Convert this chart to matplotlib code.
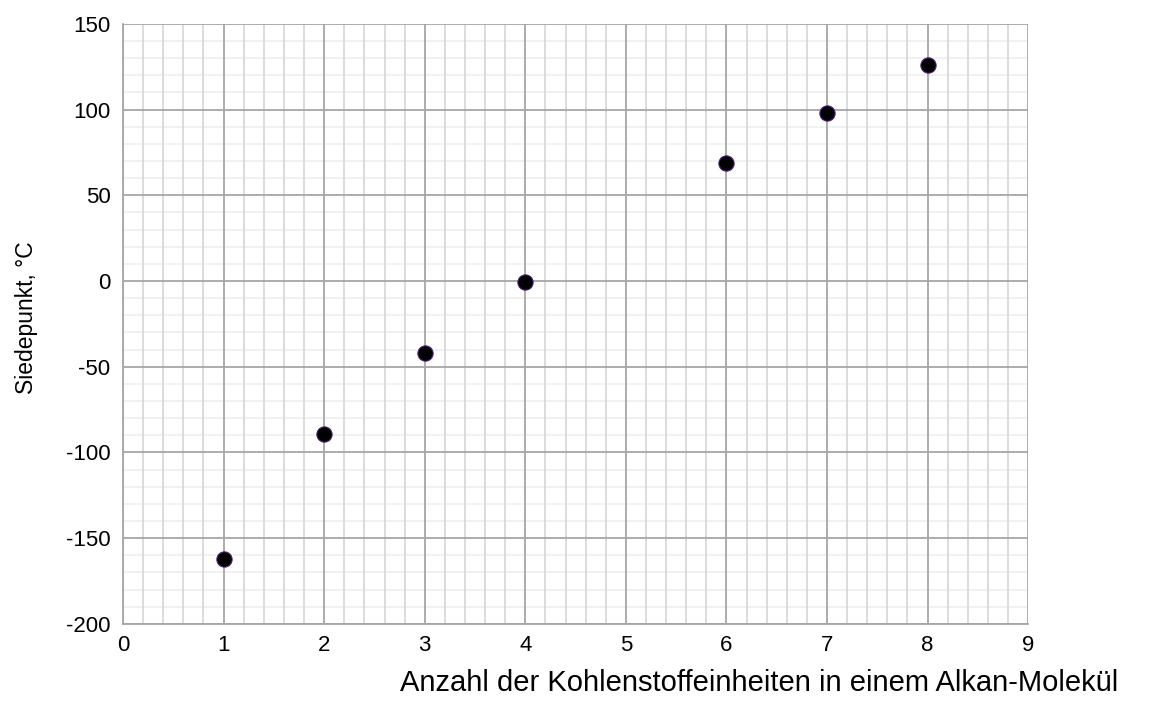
import matplotlib.pyplot as plt
import numpy as np
from matplotlib.ticker import MultipleLocator, FuncFormatter

plt.rcParams['font.family'] = ['Liberation Sans', 'DejaVu Sans']

kohlenstoff = [1, 2, 3, 4, 6, 7, 8]
siedepunkt = [-162, -89, -42, -0.5, 69, 98, 126]

fig = plt.figure(figsize=(11.5, 7.22), dpi=100)
ax = fig.add_axes([0.107, 0.136, 0.787, 0.831])

ax.set_xlim(0, 9)
ax.set_ylim(-200, 150)
ax.xaxis.set_major_locator(MultipleLocator(1))
ax.yaxis.set_major_locator(MultipleLocator(50))
ax.yaxis.set_major_formatter(FuncFormatter(lambda v, p: '%d' % v))

# minor grid drawn by hand, below the major grid
xminor = [v / 5 for v in range(46) if v % 5 != 0]
yminor = [v for v in range(-200, 151, 10) if v % 50 != 0]
ax.hlines(yminor, 0, 9, color='#f0f0f0', linewidth=1.3, zorder=0.3)
ax.vlines(xminor, -200, 150, color='#d9d9d9', linewidth=1.3, zorder=0.4)
ax.set_axisbelow('line')
ax.grid(True, which='major', color='#a6a6a6', linewidth=1.3)

for s in ['top', 'right']:
    ax.spines[s].set_visible(False)
for s in ['left', 'bottom']:
    ax.spines[s].set_color('#a6a6a6')
    ax.spines[s].set_linewidth(1.3)

ax.tick_params(which='both', length=0, labelsize=16)
ax.tick_params(axis='y', pad=9)
ax.tick_params(axis='x', pad=8)

ax.scatter(kohlenstoff, siedepunkt, s=120, color='black', edgecolors='#4b1a7a',
           linewidths=0.8, zorder=3, clip_on=False)

ax.set_ylabel('Siedepunkt, °C', fontsize=16.5)
ax.yaxis.set_label_coords(-0.094, 0.51)
fig.text(0.660, 0.054, 'Anzahl der Kohlenstoffeinheiten in einem Alkan-Molekül',
         fontsize=21, ha='center', va='center')

fig.savefig('out.png', dpi=100)
